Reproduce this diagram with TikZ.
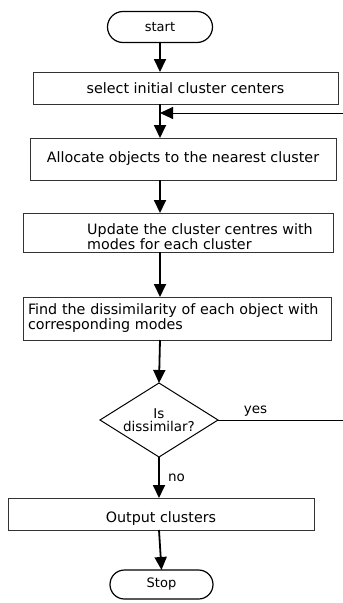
\documentclass[tikz,border=0pt]{standalone}
\usepackage{fontspec}
\setmainfont{DejaVu Sans}
\usetikzlibrary{arrows.meta,positioning,shapes.geometric,shapes.misc}

\begin{document}
\begin{tikzpicture}[
    x=1pt, y=-1pt,
    every node/.style={font=\fontsize{14.3}{15}\selectfont, inner sep=0pt, outer sep=0pt},
    kasse/.style={rectangle, draw=black!80, line width=0.7pt},
    ende/.style={rounded rectangle, draw=black, line width=1.2pt, font=\fontsize{13}{15}\selectfont},
    valg/.style={diamond, draw=black, line width=1pt, aspect=1.6, align=center, font=\fontsize{13.5}{12.5}\selectfont},
    pil/.style={line width=1.8pt, -{Triangle[length=13pt,width=12pt]}},
    linje/.style={line width=1pt},
    kant/.style={font=\fontsize{13.5}{14}\selectfont}
    ]
    \useasboundingbox (0,0) rectangle (343,603);

\node[ende, minimum width=105pt, minimum height=31pt] (start) at (160,27) {start};
\node[kasse, minimum width=305pt, minimum height=32pt] (init) at (185.5,88) {select initial cluster centers};
\node[kasse, minimum width=306pt, minimum height=42pt] (alloc) at (183,159) {Allocate objects to the nearest cluster};
\node[kasse, minimum width=310pt, minimum height=39pt,
      label={[align=left, xshift=22pt, yshift=-4pt]center:Update the cluster centres with\\modes for each cluster}] (update) at (178,232.5) {};
\node[kasse, minimum width=308pt, minimum height=43pt, text width=298pt, align=left] (find) at (177,318.5)
    {Find the dissimilarity of each object with\\corresponding modes};
\node[valg, minimum width=118pt, minimum height=74pt] (dis) at (159,420) {Is\\dissimilar?};
\node[kasse, minimum width=306pt, minimum height=32pt,
      label={[yshift=-5pt]center:Output clusters}] (out) at (161,514) {};
\node[ende, minimum width=103pt, minimum height=29pt] (stop) at (161.5,584.5) {Stop};

% loose ends at the right border
\coordinate (tilbake) at (343,113);
\coordinate (ja) at (343,420);

\draw[pil] (start.south) -- (start.south |- init.north);
\draw[pil] (start.south |- init.south) -- (start.south |- alloc.north);
\draw[pil] (start.south |- alloc.south) -- (start.south |- update.north);
\draw[pil] (start.south |- update.south) -- (start.south |- find.north);
\draw[pil] (start.south |- find.south) -- (dis.north);
\draw[pil] (dis.south) -- (dis.south |- out.north) node[kant, midway, right=9pt] {no};
\draw[pil] (dis.south |- out.south) -- (stop.north);

\draw[linje] (dis.east) -- (ja) node[kant, pos=0.3, above=4pt] {yes};
\draw[pil, line width=1pt] (tilbake) -- (start.south |- tilbake);
\end{tikzpicture}
\end{document}
